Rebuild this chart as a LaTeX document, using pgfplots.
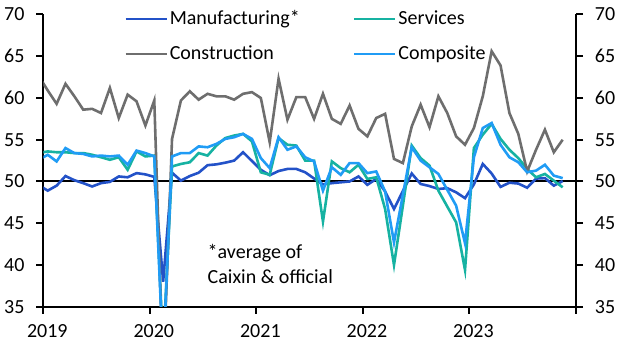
\documentclass[border=0pt]{standalone}
\usepackage{fontspec}
\setmainfont{Carlito}
\usepackage{pgfplots}
\pgfplotsset{compat=1.18}
\usepackage{pgfplotstable}
\definecolor{manu}{RGB}{35,82,200}
\definecolor{serv}{RGB}{22,178,162}
\definecolor{cons}{RGB}{110,110,110}
\definecolor{comp}{RGB}{32,156,245}
\pgfplotstableread{
x M S C P
-0.5 49.55 53.4 62.6 52.6
0.5 48.9 53.6 60.9 53.2
1.5 49.5 53.5 59.3 52.4
2.5 50.65 53.5 61.7 54.0
3.5 50.15 53.4 60.2 53.4
4.5 49.8 53.4 58.6 53.3
5.5 49.4 53.2 58.7 53.0
6.5 49.8 52.9 58.2 53.1
7.5 49.95 52.6 61.2 53.0
8.5 50.6 52.9 57.6 53.1
9.5 50.5 51.4 60.4 52.0
10.5 51.0 53.6 59.6 53.7
11.5 50.85 53.0 56.7 53.4
12.5 50.55 53.1 59.7 53.0
13.5 38.0 30.1 26.6 28.9
14.5 51.05 51.8 55.1 53.0
15.5 50.1 52.1 59.7 53.4
16.5 50.65 52.3 60.8 53.4
17.5 51.05 53.4 59.8 54.2
18.5 51.95 53.1 60.5 54.1
19.5 52.05 54.3 60.2 54.5
20.5 52.25 55.2 60.2 55.1
21.5 52.5 55.5 59.8 55.3
22.5 53.5 55.7 60.5 55.7
23.5 52.45 54.8 60.7 55.1
24.5 51.4 51.1 60.0 52.8
25.5 50.75 50.8 54.7 51.6
26.5 51.25 55.2 62.3 55.3
27.5 51.5 54.4 57.4 53.8
28.5 51.5 54.3 60.1 54.2
29.5 51.1 52.5 60.1 52.9
30.5 50.35 52.5 57.5 52.4
31.5 49.65 45.2 60.5 48.9
32.5 49.8 52.4 57.5 51.7
33.5 49.9 51.6 56.9 50.8
34.5 50.0 51.1 59.1 52.2
35.5 50.6 52.0 56.3 52.2
36.5 49.6 50.3 55.4 51.0
37.5 50.3 50.5 57.6 51.2
38.5 48.8 46.7 58.1 48.8
39.5 46.7 40.0 52.7 42.7
40.5 48.85 47.1 52.2 48.4
41.5 50.95 54.3 56.6 54.1
42.5 49.7 52.8 59.2 52.5
43.5 49.45 51.9 56.5 51.7
44.5 49.1 48.9 60.2 50.9
45.5 49.2 47.0 58.2 49.0
46.5 48.7 45.1 55.4 47.1
47.5 48.0 39.4 54.4 42.6
48.5 49.65 54.0 56.4 52.9
49.5 52.1 55.6 60.2 56.4
50.5 50.95 56.9 65.6 57.0
51.5 49.35 55.1 63.9 54.4
52.5 49.85 53.8 58.2 52.9
53.5 49.75 52.8 55.7 52.3
54.5 49.25 51.5 51.2 51.1
55.5 50.35 50.5 53.8 51.3
56.5 50.4 50.9 56.2 52.0
57.5 49.5 50.1 53.5 50.7
58.5 50.05 49.3 55.0 50.4
}\pmidata
\begin{document}
\fontsize{20bp}{24bp}\selectfont
\begin{tikzpicture}
\begin{axis}[
  name=main,
  scale only axis, width=532.7bp, height=292.2bp,
  xmin=0, xmax=60, ymin=35, ymax=70,
  axis x line*=bottom, axis y line*=left,
  axis line style={line width=2bp, -},
  xtick={0,12,24,36,48,60}, xticklabels={2019,2020,2021,2022,2023,{}},
  ytick={35,40,...,70},
  tick align=outside, major tick length=7bp,
  tick style={line width=2bp, black},
  /pgf/number format/assume math mode=true,
  ticklabel style={font=\fontsize{20bp}{24bp}\selectfont},
  xticklabel style={xshift=4bp, yshift=-4bp},
  yticklabel style={xshift=-5bp},
  legend columns=2,
  legend cell align=left,
  legend style={at={(axis description cs:0.1515,1.022)}, anchor=north west,
    draw=none, fill=none, font=\fontsize{20bp}{24bp}\selectfont,
    /tikz/every even column/.append style={column sep=51bp},
    row sep=14bp, inner sep=0pt},
  legend image code/.code={\draw[#1] (0bp,0bp) -- (41bp,0bp);},
]
\addplot[black, line width=2bp, forget plot] coordinates {(0,50) (60,50)};
\addplot[manu, line width=2.6bp] table[x=x, y=M] {\pmidata};
\addlegendentry{Manufacturing*}
\addplot[serv, line width=2.6bp] table[x=x, y=S] {\pmidata};
\addlegendentry{Services}
\addplot[cons, line width=2.6bp] table[x=x, y=C] {\pmidata};
\addlegendentry{Construction}
\addplot[comp, line width=2.6bp] table[x=x, y=P] {\pmidata};
\addlegendentry{Composite}
\node[anchor=north west, align=left, inner sep=0pt,
  font=\fontsize{20bp}{25bp}\selectfont] at (axis cs:18.5,42.5)
  {*average of\\Caixin \& official};
\end{axis}
\begin{axis}[
  scale only axis, width=532.7bp, height=292.2bp,
  xmin=0, xmax=60, ymin=35, ymax=70,
  axis x line=none, axis y line*=right,
  axis line style={line width=2bp, -},
  ytick={35,40,...,70},
  tick align=outside, major tick length=7bp,
  tick style={line width=2bp, black},
  /pgf/number format/assume math mode=true,
  ticklabel style={font=\fontsize{20bp}{24bp}\selectfont},
  yticklabel style={xshift=5bp},
]
\end{axis}
\pgfresetboundingbox
\path ([xshift=-43.3bp,yshift=-45.3bp]main.south west) rectangle ([xshift=51bp,yshift=14.5bp]main.north east);
\end{tikzpicture}
\end{document}
